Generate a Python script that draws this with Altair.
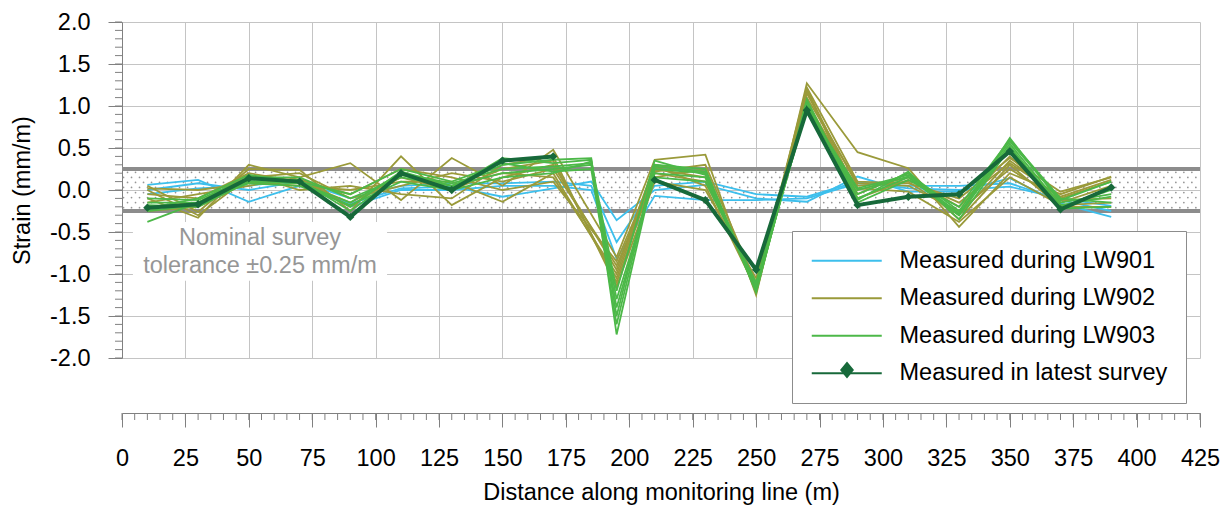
import altair as alt
import pandas as pd

FONT = "Arial"
FS = 23.5

# ---------------- data ----------------
distance = [10, 30, 50, 70, 90, 110, 130, 150, 170, 185, 195, 210, 230, 250, 270, 290, 310, 330, 350, 370, 390]

# surveys measured during LW901 (blue)
lw901_a = [0.06, 0.12, -0.14, 0.05, -0.16, 0.02, 0.04, -0.08, 0.02, 0.10, -0.36, 0.00, 0.06, -0.10, -0.14, 0.16, -0.02, -0.02, 0.14, -0.16, -0.32]
lw901_b = [0.00, 0.08, 0.00, 0.10, -0.10, 0.05, 0.08, 0.08, 0.10, 0.05, -0.62, 0.05, 0.10, -0.05, -0.08, 0.10, 0.02, 0.00, 0.04, -0.10, -0.19]
lw901_c = [-0.05, 0.02, 0.05, 0.12, -0.20, 0.00, 0.00, 0.05, 0.05, 0.00, -0.82, -0.07, -0.12, -0.12, -0.10, 0.08, 0.05, 0.05, 0.08, -0.12, -0.25]

# surveys measured during LW902 (olive)
lw902_a = [-0.10, -0.33, 0.30, 0.15, 0.32, -0.12, 0.38, 0.05, 0.48, None, -0.80, 0.36, 0.42, -1.25, 1.27, 0.45, 0.26, -0.44, 0.20, -0.05, 0.16]
lw902_b = [0.05, -0.26, 0.25, 0.24, -0.25, 0.40, -0.18, 0.15, 0.30, None, -0.95, 0.30, 0.20, -1.20, 1.15, 0.05, 0.10, -0.30, 0.35, -0.10, 0.10]
lw902_c = [-0.25, -0.20, 0.10, 0.05, 0.00, 0.10, 0.10, -0.14, 0.20, None, -1.05, 0.25, 0.15, -1.15, 1.20, -0.05, 0.20, -0.35, 0.30, -0.20, -0.20]
lw902_d = [-0.05, -0.10, 0.20, 0.10, -0.15, 0.15, 0.00, 0.25, 0.35, None, -1.10, 0.20, 0.10, -1.10, 1.05, 0.00, 0.15, -0.20, 0.40, -0.15, 0.05]
lw902_e = [0.00, -0.30, 0.15, 0.20, -0.10, 0.05, 0.20, 0.10, 0.25, None, -0.90, 0.15, 0.25, -1.22, 1.10, 0.08, 0.05, -0.25, 0.25, -0.12, -0.10]
lw902_f = [-0.15, -0.05, 0.05, 0.15, -0.20, 0.20, 0.05, 0.20, 0.15, None, -1.00, 0.28, 0.05, -1.18, 1.18, -0.10, 0.12, -0.15, 0.32, -0.08, 0.12]
lw902_g = [-0.20, -0.15, 0.18, 0.00, 0.05, -0.05, -0.10, 0.30, 0.40, None, -1.15, 0.10, 0.00, -1.05, 1.00, 0.02, -0.02, -0.38, 0.15, -0.18, -0.15]
lw902_h = [0.02, 0.00, 0.08, 0.12, -0.05, 0.25, 0.15, 0.00, 0.10, None, -0.85, 0.22, 0.30, -1.12, 1.22, 0.10, 0.08, -0.10, 0.38, -0.02, 0.15]

# surveys measured during LW903 (green)
lw903_a = [-0.38, -0.15, 0.15, 0.10, -0.20, 0.22, 0.05, 0.30, 0.36, 0.38, -1.72, 0.25, 0.20, -1.20, 1.05, -0.10, 0.15, -0.30, 0.62, -0.15, -0.05]
lw903_b = [-0.25, -0.18, 0.12, 0.12, -0.25, 0.18, 0.02, 0.38, 0.32, 0.36, -1.50, 0.30, 0.25, -1.18, 1.00, -0.05, 0.20, -0.25, 0.58, -0.12, 0.10]
lw903_c = [-0.18, -0.20, 0.10, 0.08, -0.15, 0.20, 0.08, 0.25, 0.28, 0.32, -1.40, 0.20, 0.15, -1.15, 0.98, 0.02, 0.18, -0.28, 0.55, -0.18, -0.08]
lw903_d = [-0.10, -0.12, 0.15, 0.15, -0.10, 0.15, 0.05, 0.20, 0.25, 0.30, -1.30, 0.15, 0.10, -1.10, 1.02, -0.12, 0.22, -0.35, 0.50, -0.20, 0.00]
lw903_e = [-0.22, -0.10, 0.18, 0.10, -0.05, 0.25, 0.10, 0.32, 0.22, 0.25, -1.60, 0.28, 0.22, -1.22, 1.08, -0.15, 0.12, -0.20, 0.60, -0.10, -0.15]
lw903_f = [-0.15, -0.15, 0.08, 0.05, -0.18, 0.10, 0.00, 0.15, 0.20, 0.34, -1.20, 0.35, 0.18, -1.12, 0.96, 0.00, 0.16, -0.30, 0.52, -0.22, -0.20]

# latest survey (dark green, diamonds)
latest = [-0.21, -0.17, 0.14, 0.10, -0.32, 0.20, 0.00, 0.35, 0.40, None, None, 0.12, -0.12, -0.95, 0.95, -0.18, -0.08, -0.05, 0.46, -0.23, 0.03]

series_names = ["Measured during LW901", "Measured during LW902", "Measured during LW903", "Measured in latest survey"]
series_colors = ["#3dbfec", "#9a9a3a", "#4cb848", "#17693a"]

tolerance = [-0.25, 0.25]
note_lines = ["Nominal survey", "tolerance \u00b10.25 mm/m"]

x_major_ticks = [0, 25, 50, 75, 100, 125, 150, 175, 200, 225, 250, 275, 300, 325, 350, 375, 400, 425]
x_minor_ticks = [5 * i for i in range(86)]
y_major_ticks = [-2.0, -1.5, -1.0, -0.5, 0.0, 0.5, 1.0, 1.5, 2.0]
y_minor_ticks = [round(-2 + 0.1 * i, 1) for i in range(41)]

# ---------------- tables ----------------
runs = [
    (series_names[0], "901a", lw901_a), (series_names[0], "901b", lw901_b), (series_names[0], "901c", lw901_c),
    (series_names[1], "902a", lw902_a), (series_names[1], "902b", lw902_b), (series_names[1], "902c", lw902_c),
    (series_names[1], "902d", lw902_d), (series_names[1], "902e", lw902_e), (series_names[1], "902f", lw902_f),
    (series_names[1], "902g", lw902_g), (series_names[1], "902h", lw902_h),
    (series_names[2], "903a", lw903_a), (series_names[2], "903b", lw903_b), (series_names[2], "903c", lw903_c),
    (series_names[2], "903d", lw903_d), (series_names[2], "903e", lw903_e), (series_names[2], "903f", lw903_f),
]
rows = []
for name, run, vals in runs:
    for d, v in zip(distance, vals):
        if v is not None:
            rows.append({"d": d, "v": v, "series": name, "run": run})
runs_df = pd.DataFrame(rows)

lrows = []
seg = 0
gap = False
for d, v in zip(distance, latest):
    if v is None:
        gap = True
        continue
    if gap:
        seg += 1
        gap = False
    lrows.append({"d": d, "v": v, "series": series_names[3], "marker": series_names[3], "seg": seg})
latest_df = pd.DataFrame(lrows)

tol_df = pd.DataFrame({"t": tolerance})
note_df = pd.DataFrame({"text": [note_lines]})
xminor_df = pd.DataFrame({"m": x_minor_ticks})
yminor_df = pd.DataFrame({"m": y_minor_ticks})

# ---------------- scales / axes ----------------
xscale = alt.Scale(domain=[0, 425], nice=False, zero=False)
yscale = alt.Scale(domain=[-2, 2], nice=False, zero=False)

x_axis = alt.Axis(
    values=x_major_ticks, offset=55,
    title="Distance along monitoring line (m)",
    format="d", tickSize=14,
    tickColor="#808080", domainColor="#808080",
    grid=True, gridColor="#c4c4c4",
    labelFont=FONT, labelFontSize=FS, labelColor="#000000", labelPadding=19,
    labelFlush=False, labelOverlap=False,
    titleFont=FONT, titleFontSize=FS, titleFontWeight="normal", titleColor="#000000",
    titleX=539, titleY=86, titleAlign="center", titleBaseline="alphabetic",
)
y_axis = alt.Axis(
    values=y_major_ticks,
    title="Strain (mm/m)",
    labelExpr="(datum.value < -0.001 ? '-' : '') + format(abs(datum.value), '.1f')",
    tickSize=14,
    tickColor="#808080", domainColor="#808080",
    grid=True, gridColor="#c4c4c4",
    labelFont=FONT, labelFontSize=FS, labelColor="#000000", labelPadding=18,
    labelFlush=False, labelOverlap=False,
    titleFont=FONT, titleFontSize=FS, titleFontWeight="normal", titleColor="#000000",
    titleX=-93, titleY=168, titleAngle=270, titleAlign="center", titleBaseline="alphabetic",
)

PATH_LINE = "M-1,0L6,0"
PATH_LATEST = "M-1,0L6,0M2.5,-0.85L3.2,0L2.5,0.85L1.8,0Z"

legend = alt.Legend(
    title=None, orient="none", legendX=670, legendY=209,
    fillColor="#ffffff", strokeColor="#8c8c8c", padding=18, cornerRadius=0,
    labelFont=FONT, labelFontSize=FS, labelColor="#000000", labelLimit=500,
    labelOffset=66, rowPadding=12.5, symbolSize=400, symbolType=PATH_LINE,
    symbolStrokeWidth=2,
)
color = alt.Color("series:N", scale=alt.Scale(domain=series_names, range=series_colors), legend=legend)

marker_legend = alt.Legend(
    title=None, orient="none", legendX=688, legendY=336, padding=0,
    labelExpr="''", labelLimit=1, labelOffset=0,
    symbolType=PATH_LATEST, symbolSize=400,
    symbolFillColor=series_colors[3], symbolStrokeColor=series_colors[3],
    symbolStrokeWidth=4, symbolOpacity=1,
)

# ---------------- layers ----------------
dots = alt.Chart(alt.sequence(0, 1088, as_="i")).transform_calculate(
    row="floor(datum.i / 136)", col="datum.i % 136"
).transform_calculate(
    bx="datum.col * 3.155 + (datum.row % 2) * 1.5775 + 0.6",
    by="-0.21 + datum.row * 0.06",
).transform_filter("datum.bx <= 424.5").mark_circle(size=3, color="#969696", opacity=1).encode(
    x=alt.X("bx:Q", scale=xscale, axis=x_axis),
    y=alt.Y("by:Q", scale=yscale, axis=y_axis),
)

note_box = alt.Chart(note_df).mark_rect(color="#ffffff").encode(
    x=alt.datum(4.3, scale=xscale, axis=x_axis), x2=alt.datum(104.5),
    y=alt.datum(-0.38, scale=yscale, axis=y_axis), y2=alt.datum(-1.08),
)

tol_lines = alt.Chart(tol_df).mark_rule(color="#8c8c8c", strokeWidth=4).encode(
    y=alt.Y("t:Q", scale=yscale, axis=y_axis),
)

x_minor = alt.Chart(xminor_df).mark_rule(color="#808080", strokeWidth=1).encode(
    x=alt.X("m:Q", scale=xscale, axis=x_axis),
    y=alt.value(391), y2=alt.value(398),
)
y_minor = alt.Chart(yminor_df).mark_rule(color="#808080", strokeWidth=1).encode(
    y=alt.Y("m:Q", scale=yscale, axis=y_axis),
    x=alt.value(-7), x2=alt.value(0),
)

note_text = alt.Chart(note_df).mark_text(
    align="center", baseline="alphabetic", font=FONT, fontSize=FS, color="#969696", lineHeight=28
).encode(
    x=alt.datum(54.4, scale=xscale, axis=x_axis), y=alt.datum(-0.655, scale=yscale, axis=y_axis), text="text:N"
)

lines = alt.Chart(runs_df).mark_line(strokeWidth=1.8).encode(
    x=alt.X("d:Q", scale=xscale, axis=x_axis),
    y=alt.Y("v:Q", scale=yscale, axis=y_axis),
    color=color,
    detail="run:N",
)

latest_line = alt.Chart(latest_df).mark_line(strokeWidth=4).encode(
    x=alt.X("d:Q", scale=xscale, axis=x_axis),
    y=alt.Y("v:Q", scale=yscale, axis=y_axis),
    color=color,
    detail="seg:N",
)

latest_pts = alt.Chart(latest_df).mark_point(shape="diamond", filled=True, size=70).encode(
    x=alt.X("d:Q", scale=xscale, axis=x_axis),
    y=alt.Y("v:Q", scale=yscale, axis=y_axis),
    opacity=alt.Opacity("marker:N", scale=alt.Scale(domain=[series_names[3]], range=[1]), legend=marker_legend),
    color=alt.value(series_colors[3]),
)

chart = alt.layer(
    dots, note_box, tol_lines, x_minor, y_minor, note_text, lines, latest_line, latest_pts
).properties(
    width=1078, height=336,
    padding={"left": 122, "top": 22, "right": 27, "bottom": 147},
    autosize=alt.AutoSizeParams(type="none"),
    background="#ffffff",
).configure_view(stroke=None)

chart.save("out.html", embed_options={"renderer": "svg", "actions": False})
